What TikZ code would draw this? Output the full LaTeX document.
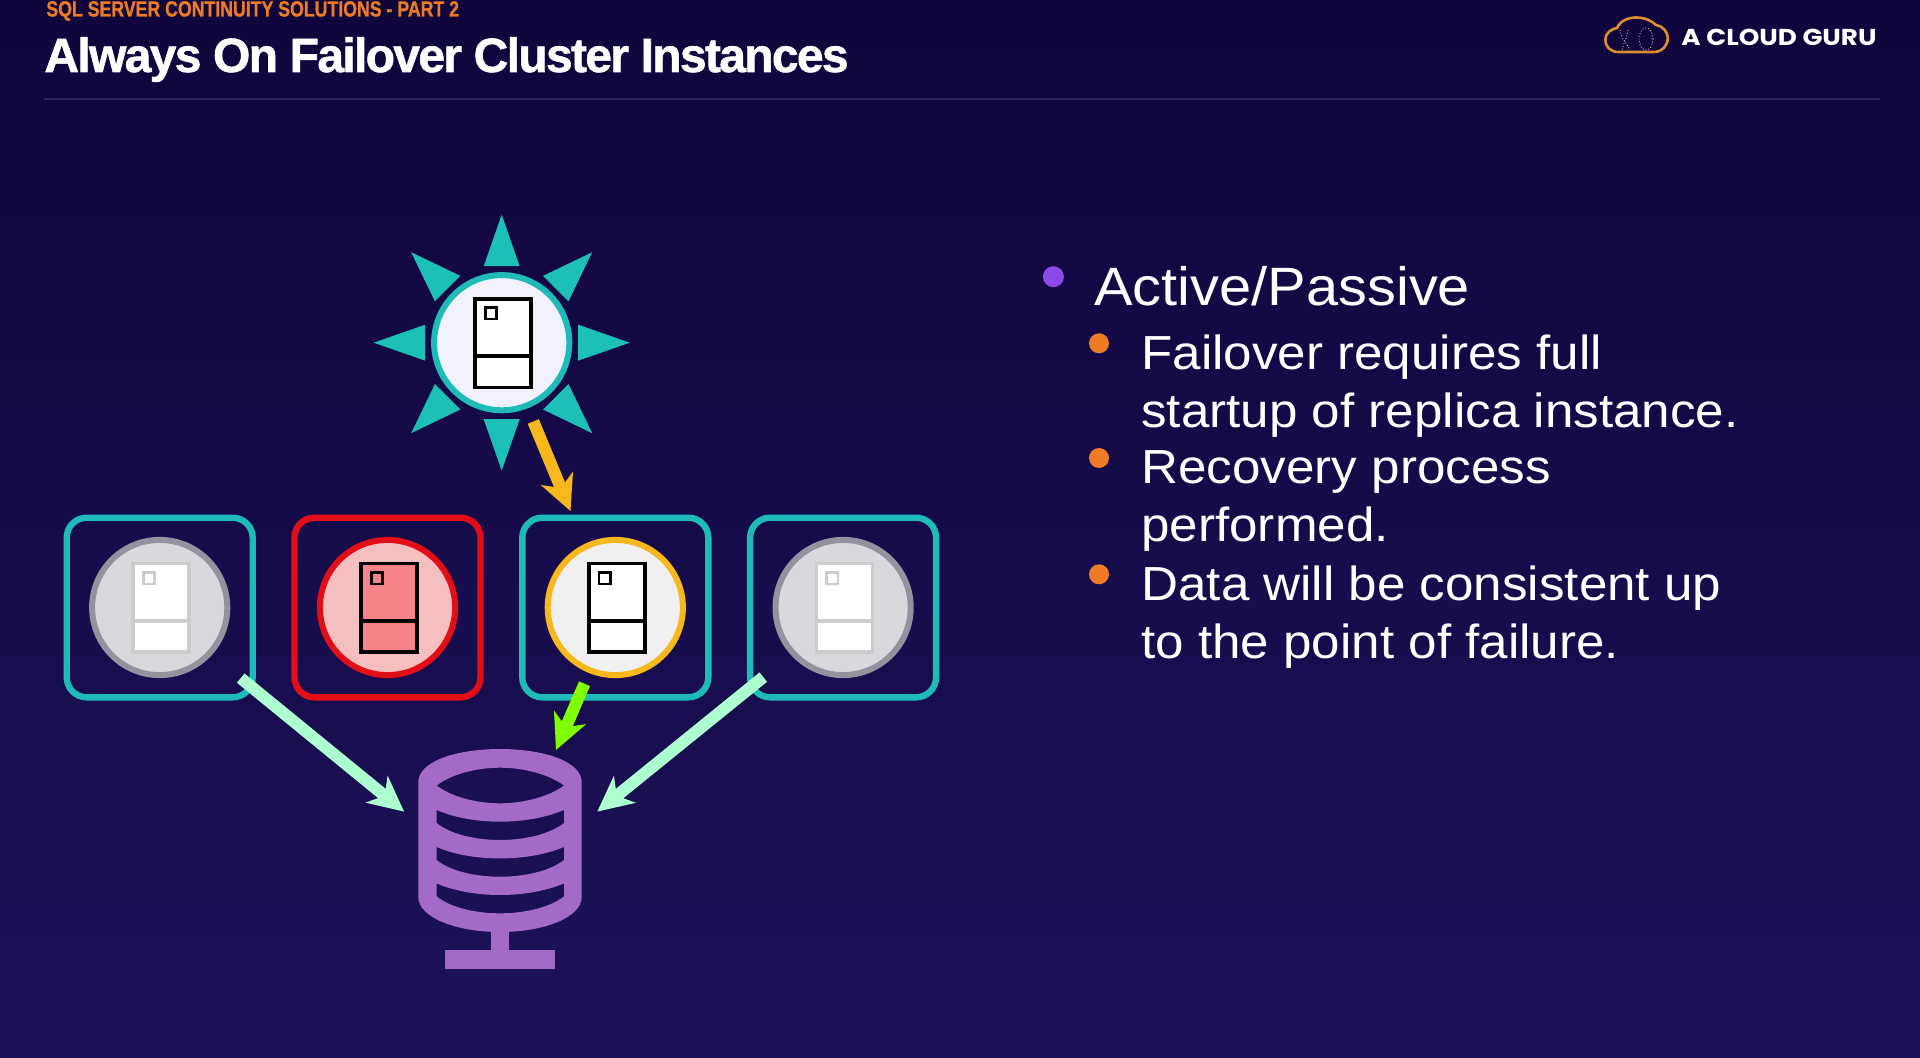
\documentclass[tikz,border=0pt]{standalone}
\usepackage{fontspec}
\usetikzlibrary{positioning, arrows.meta}
\setmainfont[FakeStretch=1.07]{Liberation Sans}
\newfontfamily\kickerfont[FakeStretch=0.805, BoldFeatures={FakeBold=0.8}]{Liberation Sans}
\newfontfamily\titlefont[LetterSpace=-3.5, BoldFeatures={FakeBold=1.2}]{Liberation Sans}
\newfontfamily\brandfont[FakeStretch=1.14]{Poppins}
\definecolor{bgtop}{HTML}{10053B}
\definecolor{bgmid}{HTML}{1B1155}
\definecolor{bgend}{HTML}{1C1259}
\definecolor{rulecol}{HTML}{2A2263}
\definecolor{acgorange}{HTML}{EE7C26}
\definecolor{acgteal}{HTML}{1EBBB9}
\definecolor{acgray}{HTML}{1CC0B6}
\definecolor{acgred}{HTML}{E20E17}
\definecolor{acgyellow}{HTML}{F6B81C}
\definecolor{acgmint}{HTML}{ADFFCF}
\definecolor{acglime}{HTML}{80FF00}
\definecolor{acgpurple}{HTML}{A36BC7}
\definecolor{acgviolet}{HTML}{8B4BE8}
\definecolor{cloudcol}{HTML}{DD8D33}
\definecolor{ringgray}{HTML}{93939F}
\definecolor{facegray}{HTML}{D8D9DC}
\definecolor{facepink}{HTML}{F6BFBF}
\definecolor{bodypink}{HTML}{F6828A}
\tikzset{line/.style={draw, line width=6pt, -{Stealth[length=17.5pt, width=17pt, inset=5pt]}}}
% icon drawn on top of a host circle: name, edge, face
\newcommand{\serverglyph}[3]{%
  \node [srvbody, draw=#2, fill=#3] (#1body) at ([xshift=.7pt, yshift=-.2pt]#1) {};
  \node [srvlamp, draw=#2, fill=#3] (#1lamp) at ([xshift=-5.35pt, yshift=14.6pt]#1) {};
  \draw [draw=#2, line width=1.8pt] ([yshift=-6.5pt]#1body.west) -- ([yshift=-6.5pt]#1body.east);
}

\begin{document}
\begin{tikzpicture}[x=0.5pt, y=-0.5pt, node distance = 20.9pt]
\tikzstyle{hostbox} = [rectangle, rounded corners=10pt, draw=acgteal, line width=3.2pt, minimum width=93pt, minimum height=89.8pt, inner sep=0pt, outer sep=0pt]
\tikzstyle{host} = [circle, line width=3pt, minimum size=67.6pt, inner sep=0pt, outer sep=0pt]
\tikzstyle{srvbody} = [rectangle, line width=1.8pt, minimum width=28pt, minimum height=44.3pt, inner sep=0pt, outer sep=0pt]
\tikzstyle{srvlamp} = [rectangle, line width=1.4pt, minimum size=5.6pt, inner sep=0pt, outer sep=0pt]
\tikzstyle{dot} = [circle, fill=acgorange, minimum size=10pt, inner sep=0pt]
\tikzstyle{subtext} = [anchor=north west, align=left, inner sep=0pt, text=white, font=\fontsize{23.9pt}{29pt}\selectfont]

\useasboundingbox (0,0) rectangle (1920,1058);
\fill [top color=bgtop, middle color=bgmid, bottom color=bgend] (0,0) rectangle (1920,1058);

% header
\node [anchor=base west, inner sep=0pt, text=acgorange, font=\kickerfont\bfseries\fontsize{11pt}{12pt}\selectfont] (kicker) at (46,16.5) {SQL SERVER CONTINUITY SOLUTIONS - PART 2};
\node [anchor=base west, inner sep=0pt, text=white, font=\titlefont\bfseries\fontsize{24pt}{26pt}\selectfont] (title) at (44,72) {Always On Failover Cluster Instances};
\fill [rulecol] (44,98) rectangle (1880,100);
\node [anchor=base west, inner sep=0pt, text=white, font=\brandfont\bfseries\fontsize{11.5pt}{12pt}\selectfont] (brand) at (1681,46) {A CLOUD GURU};
\draw [draw=cloudcol, line width=1.3pt] (1618,52) .. controls (1610,52) and (1605.3,46) .. (1605.3,40) .. controls (1605.3,33) and (1611,29) .. (1617,28) .. controls (1620,21) and (1628,17.5) .. (1636,17.5) .. controls (1645,17.5) and (1652,21) .. (1656,25) .. controls (1663,26) and (1667.7,32) .. (1667.7,38) .. controls (1667.7,46) and (1662,52) .. (1654,52) -- cycle;
\draw [draw=white!75!cloudcol, line width=.4pt, densely dotted] (1646,39) ellipse [x radius=7, y radius=11];
\draw [draw=white!75!cloudcol, line width=.4pt, densely dotted] (1620,30) .. controls (1622,40) and (1626,42) .. (1630,50) (1628,30) .. controls (1627,38) and (1624,42) .. (1622,50);

% active node with its rays
\node [host, draw=acgteal, fill=white!95!blue] (core) at (501.7,342.7) {};
\foreach \ang in {0,45,...,315} {
  \fill [acgray, shift={(501.7,342.7)}, rotate=\ang] (76.5,-18) -- (128,0) -- (76.5,18) -- cycle;
}
\serverglyph{core}{black}{white}

% the four hosts
\node [hostbox] (boxA) at (159.7,607.5) {};
\node [hostbox, draw=acgred, right=of boxA] (boxB) {};
\node [hostbox, right=of boxB] (boxC) {};
\node [hostbox, right=of boxC] (boxD) {};
\node [host, draw=ringgray, fill=facegray] (srvA) at (boxA) {};
\node [host, draw=acgred, fill=facepink] (srvB) at (boxB) {};
\node [host, draw=acgyellow, fill=black!6!white] (srvC) at (boxC) {};
\node [host, draw=ringgray, fill=facegray] (srvD) at (boxD) {};
\serverglyph{srvA}{black!20!white}{white}
\serverglyph{srvB}{black}{bodypink}
\serverglyph{srvC}{black}{white}
\serverglyph{srvD}{black!20!white}{white}

% storage
\node [rectangle, minimum width=81.7pt, minimum height=110pt, inner sep=0pt, outer sep=0pt] (db) at (500,859) {};
\fill [acgpurple, even odd rule]
  (418.3,782) .. controls (418.3,762) and (455,749) .. (500,749) .. controls (545,749) and (581.7,762) .. (581.7,782) -- (581.7,897) .. controls (581.7,917) and (545,932) .. (500,932) .. controls (455,932) and (418.3,917) .. (418.3,897) -- cycle
  (436.7,785.5) .. controls (450,775) and (475,767.7) .. (500,767.7) .. controls (525,767.7) and (550,775) .. (564,785.5) .. controls (550,796) and (525,803.3) .. (500,803.3) .. controls (475,803.3) and (450,796) .. (436.7,785.5) -- cycle
  (436.7,810) .. controls (455,818) and (478,821.7) .. (500,821.7) .. controls (522,821.7) and (545,818) .. (564,810) -- (564,823) .. controls (550,834) and (525,840) .. (500,840) .. controls (475,840) and (450,834) .. (436.7,823) -- cycle
  (436.7,847) .. controls (455,855) and (478,858.4) .. (500,858.4) .. controls (522,858.4) and (545,855) .. (564,847) -- (564,860) .. controls (550,871) and (525,876.7) .. (500,876.7) .. controls (475,876.7) and (450,871) .. (436.7,860) -- cycle
  (436.7,883.4) .. controls (455,891.4) and (478,895) .. (500,895) .. controls (522,895) and (545,891.4) .. (564,883.4) -- (564,896.4) .. controls (550,907.4) and (525,913.3) .. (500,913.3) .. controls (475,913.3) and (450,907.4) .. (436.7,896.4) -- cycle;
\fill [acgpurple] (491,925) rectangle (509,955);
\fill [acgpurple] (445,950) rectangle (555,969);

\path [line, draw=acgyellow] ([shift={(15.8pt,-5.6pt)}]core.south) -- ([shift={(-22.4pt,3.3pt)}]boxC.north);
\path [line, draw=acglime] ([shift={(-15.4pt,6.8pt)}]boxC.south) -- ([shift={(28pt,-.5pt)}]db.north);
\path [line, draw=acgmint] ([shift={(-6pt,9.6pt)}]boxA.south east) -- ([shift={(-7.1pt,-31.3pt)}]db.north west);
\path [line, draw=acgmint] ([shift={(6.6pt,10.1pt)}]boxD.south west) -- ([shift={(7.8pt,-31.3pt)}]db.north east);

% bullet list
\node [dot, fill=acgviolet, minimum size=10.5pt] (dotA) at (1053.4,276.7) {};
\node [anchor=base west, inner sep=0pt, text=white, font=\fontsize{27pt}{30pt}\selectfont] (headA) at (1094,306) {Active/Passive};
\node [dot] (dotB) at (1099,343.3) {};
\node [dot] (dotC) at (1099,458) {};
\node [dot] (dotD) at (1099,574.3) {};
\node [subtext] (textB) at (1141,334) {Failover requires full\\startup of replica instance.};
\node [subtext] (textC) at (1141,450) {Recovery process\\performed.};
\node [subtext] (textD) at (1141,565) {Data will be consistent up\\to the point of failure.};
\end{tikzpicture}
\end{document}
